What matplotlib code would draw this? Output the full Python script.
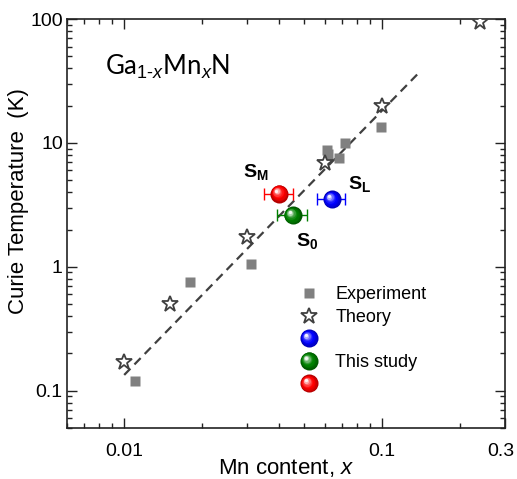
import numpy as np
import matplotlib
matplotlib.use('Agg')
from matplotlib import pyplot as plt
from matplotlib import transforms
from matplotlib.colors import to_rgb
from matplotlib.lines import Line2D
from matplotlib.legend_handler import HandlerBase

plt.rcParams['font.family'] = ['Liberation Sans', 'DejaVu Sans']
plt.rcParams['mathtext.fontset'] = 'custom'
plt.rcParams['mathtext.rm'] = 'Liberation Sans'
plt.rcParams['mathtext.it'] = 'Liberation Sans:italic'
plt.rcParams['mathtext.bf'] = 'Liberation Sans:bold'

# experiment (grey squares)
exp_x = [0.011, 0.018, 0.031, 0.061, 0.062, 0.068, 0.072, 0.099]
exp_tc = [0.12, 0.75, 1.05, 8.8, 8.2, 7.6, 10.0, 13.5]

# theory (open stars)
th_x = [0.010, 0.015, 0.030, 0.060, 0.100, 0.24]
th_tc = [0.17, 0.50, 1.75, 6.9, 20.0, 95.0]

# dashed guide line
fit_x = [0.010, 0.14]
fit_tc = [0.134, 37.4]

# this study: S_L, S_0, S_M
study_names = ['S_L', 'S_0', 'S_M']
study_x = [0.064, 0.045, 0.040]
study_tc = [3.5, 2.6, 3.9]
study_xerr = [0.008, 0.006, 0.005]
study_colors = ['#0000ff', '#008000', '#ff0000']
label_pos = [(0.082, 4.64), (0.051, 1.61), (0.0323, 5.8)]


def sphere_layers(color, ms, n=9):
    base = np.array(to_rgb(color))
    dark = base * 0.7
    out = []
    for i in range(n):
        t = i / (n - 1)
        size = ms * (1 - 0.82 * t)
        if t < 0.35:
            c = dark + (base - dark) * (t / 0.35)
        else:
            w = ((t - 0.35) / 0.65) ** 1.6 * 0.95
            c = base + (1 - base) * w
        off = 0.17 * ms * t
        out.append((size, tuple(c), -off, off))
    return out


def draw_sphere(ax, x, y, color, ms):
    fig = ax.figure
    for size, c, dx, dy in sphere_layers(color, ms):
        tr = ax.transData + transforms.ScaledTranslation(dx / 72, dy / 72, fig.dpi_scale_trans)
        ax.plot([x], [y], 'o', ms=size, color=c, mec='none', transform=tr, zorder=5)


class SphereHandler(HandlerBase):
    def __init__(self, color, ms):
        super().__init__()
        self.color = color
        self.ms = ms

    def create_artists(self, legend, orig_handle, xdescent, ydescent, width, height, fontsize, trans):
        cx = width / 2 - xdescent
        cy = height / 2 - ydescent
        arts = []
        for size, c, dx, dy in sphere_layers(self.color, self.ms):
            ln = Line2D([cx + dx], [cy + dy], marker='o', ms=size, color=c, mec='none', ls='none')
            ln.set_transform(trans)
            arts.append(ln)
        return arts


fig = plt.figure(figsize=(5.17, 4.79), dpi=100)
ax = fig.add_axes([0.1296, 0.1065, 0.8472, 0.8538])
ax.set_xscale('log')
ax.set_yscale('log')

ax.plot(fit_x, fit_tc, color='#404040', lw=1.6, ls=(0, (4, 2.6)), zorder=2)
sq, = ax.plot(exp_x, exp_tc, 's', ms=7.5, color='#808080', mec='none', ls='none', zorder=3)
st, = ax.plot(th_x, th_tc, '*', ms=12, mfc='white', mec='#404040', mew=1.3, ls='none', zorder=4)

ms = 13
for x, y, xe, c in zip(study_x, study_tc, study_xerr, study_colors):
    ax.errorbar([x], [y], xerr=[xe], fmt='none', ecolor=c, elinewidth=1.0, capsize=4, capthick=1.0, zorder=4.5)
    draw_sphere(ax, x, y, c, ms)

for name, (lx, ly) in zip(study_names, label_pos):
    ax.text(lx, ly, r'$\mathbf{%s}$' % name, fontsize=14, ha='center', va='center')

ax.text(0.087, 0.863, r'Ga$_{1\text{-}x}$Mn$_x$N', transform=ax.transAxes, fontsize=18.5,
        family=['Lato', 'DejaVu Sans'], ha='left', va='baseline')

ax.set_xlim(0.006, 0.3)
ax.set_ylim(0.05, 100)
ax.set_xticks([0.01, 0.1, 0.3])
ax.set_xticklabels(['0.01', '0.1', '0.3'])
ax.set_yticks([0.1, 1, 10, 100])
ax.set_yticklabels(['0.1', '1', '10', '100'])
ax.tick_params(which='both', direction='in', top=True, right=True, labelsize=14, width=1.0, color='#222222')
ax.tick_params(which='major', length=7)
ax.tick_params(which='minor', length=3.5)
ax.tick_params(axis='x', which='major', pad=10.5)
ax.tick_params(axis='y', which='major', pad=3)
for sp in ax.spines.values():
    sp.set_linewidth(1.2)
    sp.set_color('#222222')

# last x label sits a little left of its tick so it stays inside the figure
last_lbl = ax.get_xticklabels()[-1]
last_lbl.set_transform(last_lbl.get_transform() + transforms.ScaledTranslation(-4 / 100, 0, fig.dpi_scale_trans))

ax.set_xlabel('Mn content, $x$', fontsize=16, labelpad=-1.5)
ax.set_ylabel('Curie Temperature  (K)', fontsize=16)
ax.yaxis.set_label_coords(-0.087, 0.555)

handles = [sq, st] + [Line2D([], []) for _ in range(3)]
labels = ['Experiment', 'Theory', ' ', 'This study', ' ']
hmap = {handles[2]: SphereHandler(study_colors[0], ms),
        handles[3]: SphereHandler(study_colors[1], ms),
        handles[4]: SphereHandler(study_colors[2], ms)}
ax.legend(handles, labels, handler_map=hmap, loc='center', bbox_to_anchor=(0.676, 0.215),
          frameon=False, fontsize=13, numpoints=1, handlelength=1.0, handletextpad=0.95,
          labelspacing=0.31, borderpad=0.2)

fig.savefig('out.png', dpi=100)
